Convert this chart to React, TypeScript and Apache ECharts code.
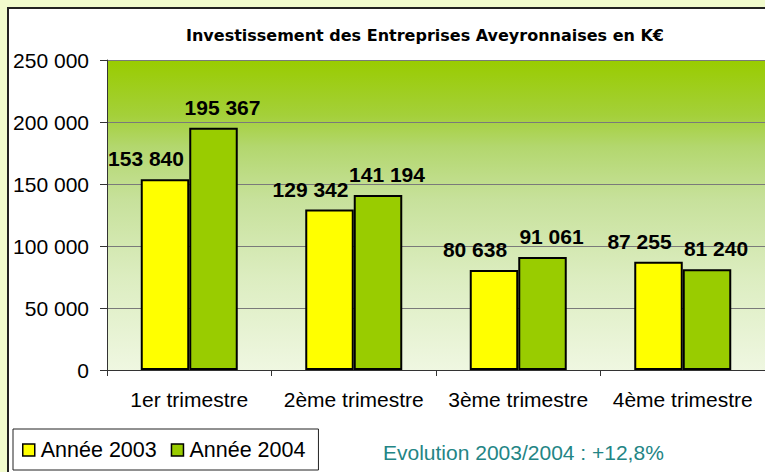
import React, { useEffect, useRef } from "react";
import * as echarts from "echarts";

const title = "Investissement des Entreprises Aveyronnaises en K€";
const categories = ["1er trimestre", "2ème trimestre", "3ème trimestre", "4ème trimestre"];
const series2003 = [153840, 129342, 80638, 87255];
const series2004 = [195367, 141194, 91061, 81240];
const seriesNames = ["Année 2003", "Année 2004"];
const yTicks = [0, 50000, 100000, 150000, 200000, 250000];
const evolutionText = "Evolution 2003/2004 : +12,8%";

const FONT = "'Liberation Sans', Arial, sans-serif";
const fmt = (v: number) => String(v).replace(/\B(?=(\d{3})+(?!\d))/g, " ");

export default function App() {
  const ref = useRef<HTMLDivElement>(null);
  useEffect(() => {
    if (!ref.current) return;
    const chart = echarts.init(ref.current, null, { renderer: "svg" });
    const labelBase = {
      show: true,
      position: "top",
      distance: 10,
      fontFamily: FONT,
      fontSize: 21,
      fontWeight: "bold",
      color: "#000",
      formatter: (p: any) => fmt(p.value),
    };
    chart.setOption({
      animation: false,
      backgroundColor: "#f1fbcd",
      graphic: [
        {
          type: "rect",
          z: -10,
          shape: { x: 8, y: 8, width: 800, height: 500 },
          style: { fill: "#ffffff", stroke: "#222", lineWidth: 2 },
        },
        {
          type: "text",
          x: 425,
          y: 35,
          style: {
            text: title,
            fill: "#000",
            font: "bold 16px 'DejaVu Sans', sans-serif",
            textAlign: "center",
            textVerticalAlign: "middle",
          },
        },
        {
          type: "text",
          x: 383,
          y: 452,
          style: {
            text: evolutionText,
            fill: "#238585",
            font: "21px 'Liberation Sans', Arial, sans-serif",
            textAlign: "left",
            textVerticalAlign: "middle",
          },
        },
      ],
      legend: {
        left: 13,
        top: 429,
        orient: "horizontal",
        padding: [10, 13, 9, 9],
        itemGap: 14,
        itemWidth: 12,
        itemHeight: 12,
        icon: "rect",
        backgroundColor: "#fff",
        borderColor: "#222",
        borderWidth: 1,
        borderRadius: 0,
        itemStyle: { borderColor: "#000", borderWidth: 1.5 },
        textStyle: { fontFamily: FONT, fontSize: 21.5, color: "#000", padding: [0, 0, 0, 1] },
        data: seriesNames,
      },
      grid: {
        left: 107,
        top: 60,
        width: 668,
        height: 310,
        show: true,
        borderWidth: 0,
        backgroundColor: new echarts.graphic.LinearGradient(0, 0, 0, 1, [
          { offset: 0, color: "#99cc00" },
          { offset: 0.18, color: "#a4d03a" },
          { offset: 0.28, color: "#b3d76e" },
          { offset: 0.45, color: "#c7e19b" },
          { offset: 0.7, color: "#dcedc0" },
          { offset: 1, color: "#eff7e1" },
        ]),
      },
      xAxis: {
        type: "category",
        data: categories,
        axisLine: { show: true, lineStyle: { color: "#333", width: 1 } },
        axisTick: { show: true, length: 6, alignWithLabel: false, lineStyle: { color: "#333" } },
        axisLabel: { fontFamily: FONT, fontSize: 21, color: "#000", margin: 19, interval: 0 },
        splitLine: { show: false },
      },
      yAxis: {
        type: "value",
        min: yTicks[0],
        max: yTicks[yTicks.length - 1],
        interval: yTicks[1] - yTicks[0],
        axisLine: { show: true, lineStyle: { color: "#333", width: 1 } },
        axisTick: { show: true, length: 7, lineStyle: { color: "#333" } },
        axisLabel: { fontFamily: FONT, fontSize: 21, color: "#000", margin: 18, formatter: (v: number) => fmt(v) },
        splitLine: { show: true, lineStyle: { color: "#7a7a7a", width: 1 } },
      },
      series: [
        {
          name: seriesNames[0],
          type: "bar",
          data: series2003,
          barWidth: 48.5,
          barGap: "0%",
          itemStyle: { color: "#ffff00", borderColor: "#000", borderWidth: 2 },
          label: { ...labelBase, offset: [-19, 0] },
        },
        {
          name: seriesNames[1],
          type: "bar",
          data: series2004,
          barWidth: 48.5,
          barGap: "0%",
          itemStyle: { color: "#99cc00", borderColor: "#000", borderWidth: 2 },
          label: { ...labelBase, offset: [9, 0] },
        },
      ],
    });
    return () => chart.dispose();
  }, []);
  return (
    <div
      ref={ref}
      style={{ position: "absolute", left: 0, top: 0, width: 765, height: 472 }}
    />
  );
}
